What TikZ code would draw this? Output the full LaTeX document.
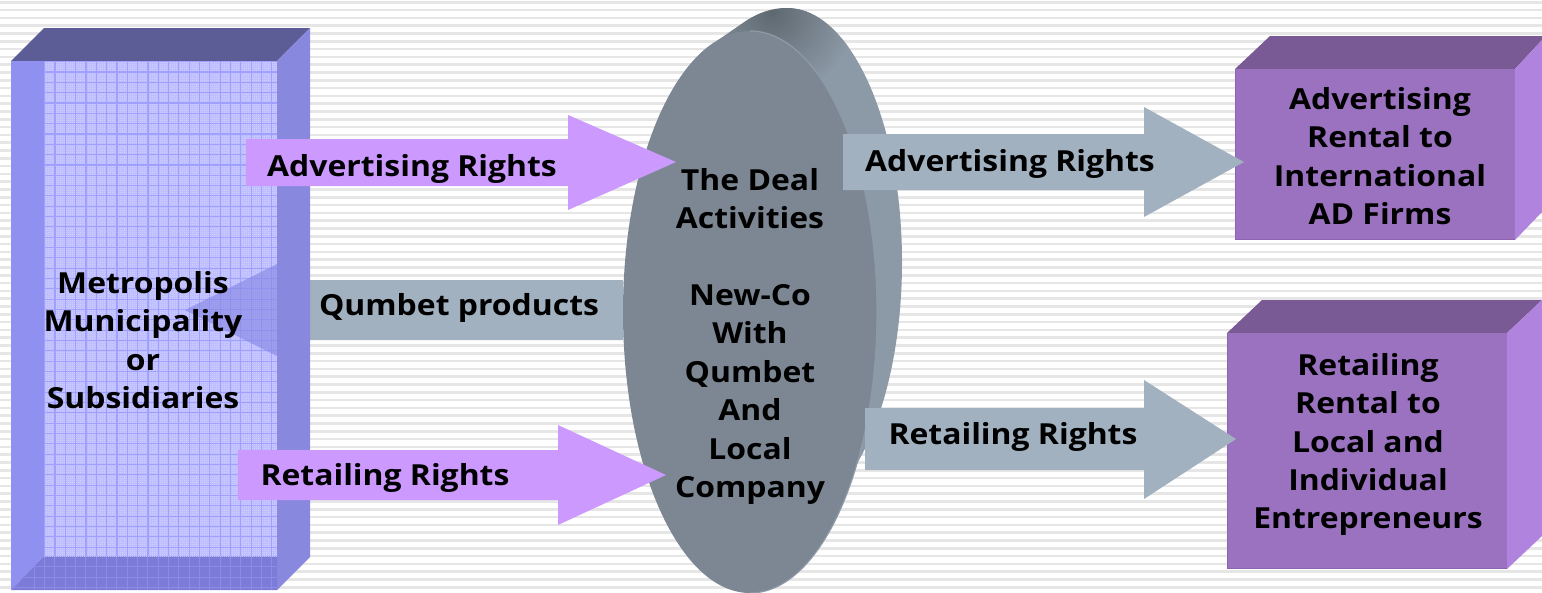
\documentclass[tikz,border=0pt]{standalone}
\usepackage{fontspec}
\setmainfont{Open Sans}[FakeStretch=1.1]
\usetikzlibrary{patterns}
\definecolor{stripe}{HTML}{E6E6E6}
\definecolor{blueFront}{HTML}{BCBCFF}
\definecolor{blueDither}{HTML}{D6D6FF}
\definecolor{blueGrid}{HTML}{A0A0FF}
\definecolor{blueLeft}{HTML}{9090F0}
\definecolor{blueTop}{HTML}{5C5C96}
\definecolor{blueRight}{HTML}{8888DE}
\definecolor{blueBot}{HTML}{7C7CD8}
\definecolor{blueBotGrid}{HTML}{8C8CE6}
\definecolor{blueHead}{HTML}{8888E6}
\definecolor{discFront}{HTML}{7D8793}
\definecolor{discSide}{HTML}{8C99A6}
\definecolor{discRim}{HTML}{8E9AA8}
\definecolor{discDark}{HTML}{5E6870}
\definecolor{lilac}{HTML}{CC99FF}
\definecolor{slate}{HTML}{A2B1BF}
\definecolor{purFront}{HTML}{9B72C0}
\definecolor{purEdge}{HTML}{8C64B0}
\definecolor{purTop}{HTML}{7A5A94}
\definecolor{purRight}{HTML}{B083DE}
\pgfdeclarepatternformonly{dith}{\pgfqpoint{0pt}{0pt}}{\pgfqpoint{2pt}{2pt}}{\pgfqpoint{2pt}{2pt}}{%
 \pgfpathrectangle{\pgfpointorigin}{\pgfqpoint{1pt}{1pt}}%
 \pgfpathrectangle{\pgfqpoint{1pt}{1pt}}{\pgfqpoint{1pt}{1pt}}\pgfusepath{fill}}
\tikzset{x=1pt,y=-1pt,
 lab/.style={font=\fontsize{29}{38.4}\selectfont\bfseries,align=center,text=black,inner sep=0pt},
 puredge/.style={draw=purEdge,line width=1.2pt}}
\begin{document}
\begin{tikzpicture}
\useasboundingbox (0,0) rectangle (1542,592);
\fill[white] (0,0) rectangle (1542,592);
\foreach \i in {0,...,75}{\fill[stripe] (0,{1+7.8*\i}) rectangle (1542,{3.6+7.8*\i});}
% right boxes
\fill[purTop] (1235,69) -- (1270,36) -- (1542,36) -- (1542,40) -- (1515,69) -- cycle;
\fill[purRight] (1515,69) -- (1542,40) -- (1542,212) -- (1515,240) -- cycle;
\fill[purFront] (1235,69) rectangle (1515,240);
\draw[puredge] (1235.5,69) -- (1235.5,239.5) -- (1515,239.5);
\fill[purTop] (1227,333) -- (1262,300) -- (1542,300) -- (1507,333) -- cycle;
\fill[purRight] (1507,333) -- (1542,300) -- (1542,536) -- (1507,569) -- cycle;
\fill[purFront] (1227,333) rectangle (1507,569);
\draw[puredge] (1227.5,333) -- (1227.5,568.5) -- (1507,568.5);
% Qumbet arrow (behind the left box)
\fill[slate] (623,280) -- (277,280) -- (277,264) -- (185,310) -- (277,356) -- (277,340) -- (623,340) -- cycle;
% left box
\fill[blueTop] (11,61) -- (44,28) -- (310,28) -- (277,61) -- cycle;
\fill[blueRight] (277,61) -- (310,28) -- (310,557) -- (277,590) -- cycle;
\fill[blueLeft] (11,61) -- (44,61) -- (44,556) -- (11,590) -- cycle;
\fill[blueBot] (11,590) -- (44,556) -- (277,556) -- (277,590) -- cycle;
\begin{scope}
\clip (11,590) -- (44,556) -- (277,556) -- (277,590) -- cycle;
\foreach \i in {-1,...,22}{\fill[blueBotGrid] ({44+10.33*\i},556) rectangle ({45+10.33*\i},590);}
\foreach \i in {0,...,3}{\fill[blueBotGrid] (11,{556+10.33*\i}) rectangle (277,{557+10.33*\i});}
\end{scope}
\fill[blueFront] (44,61) rectangle (277,556);
\fill[pattern=dith,pattern color=blueDither] (44,61) rectangle (277,556);
\foreach \i in {0,...,22}{\fill[blueGrid] ({44+10.33*\i},61) rectangle ({45.2+10.33*\i},556);}
\foreach \i in {0,...,47}{\fill[blueGrid] (44,{61+10.33*\i}) rectangle (277,{62.2+10.33*\i});}
\fill[blueHead,opacity=.65] (277,264) -- (185,310) -- (277,356) -- cycle;
% disc
\begin{scope}
\clip (787,262) ellipse [x radius=115,y radius=254] (717,41) -- (743,23) .. controls (757,13) and (772,8) .. (787,8) -- (800,120) -- (717,120) -- cycle;
\fill[discSide] (690,0) rectangle (910,530);
\shade[inner color=discDark,outer color=discSide] (772,12) circle [radius=84];
\end{scope}
\fill[discFront] (750,312) ellipse [x radius=127,y radius=281];
\begin{scope}
\clip (750,0) rectangle (900,592);
\draw[discRim,line width=1.2pt] (750,312) ellipse [x radius=127,y radius=281];
\end{scope}
% arrows
\fill[lilac] (246,139) -- (568,139) -- (568,115) -- (676,162) -- (568,210) -- (568,186) -- (246,186) -- cycle;
\fill[lilac] (238,450) -- (558,450) -- (558,425) -- (666,475) -- (558,525) -- (558,500) -- (238,500) -- cycle;
\fill[slate] (843,134) -- (1144,134) -- (1144,107) -- (1244,162) -- (1144,217) -- (1144,190) -- (843,190) -- cycle;
\fill[slate] (865,408) -- (1144,408) -- (1144,380) -- (1236,439) -- (1144,499) -- (1144,470) -- (865,470) -- cycle;
% labels
\node[lab] (a1) at (412,169) {Advertising Rights};
\node[lab] (a2) at (385,478) {Retailing Rights};
\node[lab] (a3) at (459,308) {Qumbet products};
\node[lab] (a4) at (1010,164) {Advertising Rights};
\node[lab] (a5) at (1013,437) {Retailing Rights};
\node[lab,anchor=north] (m) at (143,271) {Metropolis\\Municipality\\or\\Subsidiaries};
\node[lab,anchor=north] (d) at (750,168) {The Deal\\Activities\\[38.4pt]New-Co\\With\\Qumbet\\And\\Local\\Company};
\node[lab,anchor=north] (r1) at (1380,87) {Advertising\\Rental to\\International\\AD Firms};
\node[lab,anchor=north] (r2) at (1368,353) {Retailing\\Rental to\\Local and\\Individual\\Entrepreneurs};
\end{tikzpicture}
\end{document}
